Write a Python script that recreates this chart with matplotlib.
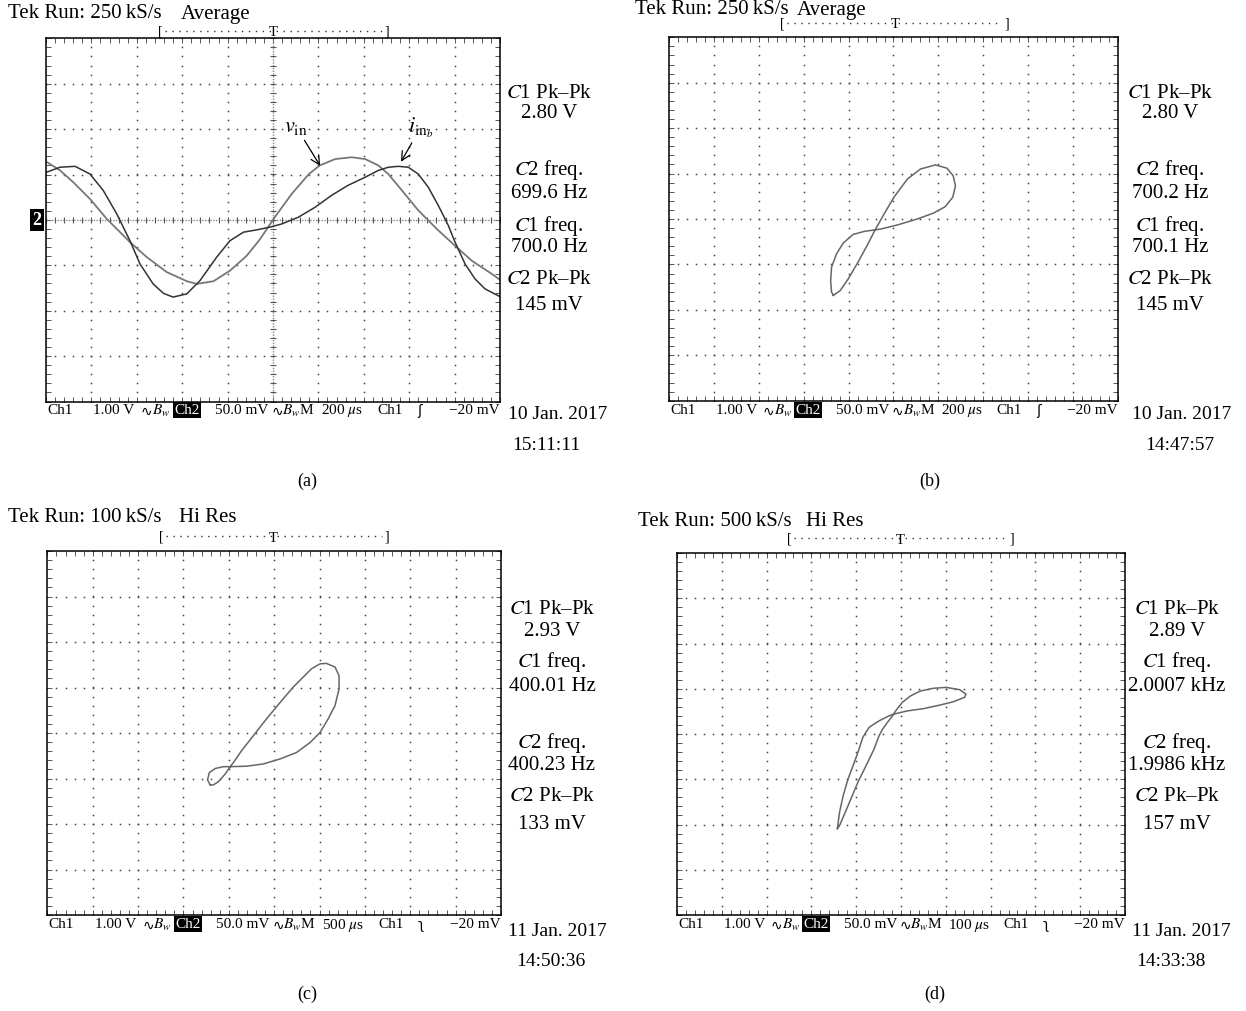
import matplotlib
matplotlib.use('Agg')
import matplotlib.pyplot as plt
import numpy as np
from matplotlib.lines import Line2D
from matplotlib.ticker import MultipleLocator

plt.rcParams['font.family'] = ['Liberation Serif', 'DejaVu Serif', 'DejaVu Sans']
plt.rcParams['mathtext.fontset'] = 'stix'

W, H = 1246, 1012

# all traces in screen divisions: x 0..10, y -4..4
# (a) YT mode, two channels
a_vin_x = [0.01, 0.31, 0.60, 0.97, 1.34, 1.85, 2.22, 2.66, 3.10, 3.32, 3.69, 4.05, 4.42,
           4.71, 5.04, 5.41, 5.79, 6.03, 6.37, 6.73, 7.03, 7.32, 7.54, 7.84, 8.20, 8.64,
           9.01, 9.38, 9.82, 10.0]
a_vin_y = [1.28, 1.09, 0.83, 0.46, 0.02, -0.49, -0.82, -1.15, -1.35, -1.41, -1.35, -1.12,
           -0.79, -0.43, 0.06, 0.57, 1.01, 1.20, 1.34, 1.38, 1.34, 1.20, 1.01, 0.65, 0.21,
           -0.23, -0.57, -0.90, -1.19, -1.32]
a_iin_x = [0.01, 0.31, 0.64, 0.97, 1.26, 1.56, 1.85, 2.07, 2.36, 2.59, 2.80, 3.10, 3.39,
           3.76, 4.05, 4.35, 4.64, 4.93, 5.19, 5.56, 5.93, 6.29, 6.65, 7.03, 7.32, 7.54,
           7.76, 7.98, 8.20, 8.42, 8.64, 8.86, 9.01, 9.23, 9.45, 9.67, 10.0]
a_iin_y = [1.05, 1.16, 1.18, 1.01, 0.65, 0.13, -0.46, -0.97, -1.41, -1.62, -1.70, -1.63,
           -1.34, -0.82, -0.46, -0.27, -0.22, -0.16, -0.09, 0.06, 0.28, 0.54, 0.76, 0.94,
           1.09, 1.16, 1.18, 1.16, 1.01, 0.72, 0.32, -0.12, -0.49, -0.97, -1.30, -1.52, -1.69]

# (b)-(d) XY mode loops
b_x = [3.66, 3.81, 3.99, 4.21, 4.43, 4.59, 4.79, 5.01, 5.31, 5.60, 5.93, 6.19, 6.33, 6.38,
       6.32, 6.15, 5.89, 5.53, 5.09, 4.72, 4.59, 4.36, 4.10, 3.88, 3.73, 3.62, 3.60, 3.62, 3.66]
b_y = [-1.68, -1.58, -1.32, -0.95, -0.55, -0.24, 0.11, 0.48, 0.88, 1.10, 1.19, 1.12, 0.95,
       0.73, 0.48, 0.27, 0.13, 0.00, -0.13, -0.22, -0.24, -0.27, -0.34, -0.53, -0.77, -1.06,
       -1.36, -1.61, -1.68]

c_x = [3.59, 3.53, 3.57, 3.70, 3.88, 4.03, 4.39, 4.76, 5.13, 5.49, 5.79, 6.01, 6.19, 6.34,
       6.43, 6.43, 6.34, 6.15, 6.01, 5.82, 5.64, 5.42, 5.13, 4.83, 4.54, 4.28, 4.10, 4.03,
       3.92, 3.77, 3.66, 3.59]
c_y = [-1.14, -1.03, -0.87, -0.78, -0.74, -0.74, -0.73, -0.68, -0.57, -0.43, -0.21, 0.01,
       0.31, 0.60, 0.97, 1.26, 1.45, 1.53, 1.52, 1.41, 1.23, 1.01, 0.67, 0.31, -0.06, -0.39,
       -0.65, -0.74, -0.90, -1.07, -1.14, -1.14]

d_x = [3.58, 3.63, 3.71, 3.82, 3.96, 4.04, 4.15, 4.29, 4.51, 4.73, 4.84, 5.14, 5.50, 5.87,
       6.16, 6.42, 6.45, 6.31, 6.01, 5.72, 5.43, 5.21, 5.03, 4.88, 4.81, 4.70, 4.59, 4.51,
       4.40, 4.22, 4.04, 3.82, 3.63, 3.58]
d_y = [-2.09, -1.72, -1.36, -0.99, -0.62, -0.40, -0.07, 0.15, 0.29, 0.40, 0.44, 0.51, 0.56,
       0.64, 0.71, 0.81, 0.88, 0.98, 1.03, 1.01, 0.95, 0.84, 0.70, 0.51, 0.40, 0.26, 0.11,
       -0.04, -0.33, -0.70, -1.06, -1.58, -2.02, -2.09]

# readouts
a_meas = ['$C$1 Pk–Pk', '2.80 V', '$C$2 freq.', '699.6 Hz', '$C$1 freq.', '700.0 Hz', '$C$2 Pk–Pk', '145 mV']
b_meas = ['$C$1 Pk–Pk', '2.80 V', '$C$2 freq.', '700.2 Hz', '$C$1 freq.', '700.1 Hz', '$C$2 Pk–Pk', '145 mV']
c_meas = ['$C$1 Pk–Pk', '2.93 V', '$C$1 freq.', '400.01 Hz', '$C$2 freq.', '400.23 Hz', '$C$2 Pk–Pk', '133 mV']
d_meas = ['$C$1 Pk–Pk', '2.89 V', '$C$1 freq.', '2.0007 kHz', '$C$2 freq.', '1.9986 kHz', '$C$2 Pk–Pk', '157 mV']
titles = [('Tek Run: 250\u2009kS/s', 'Average'), ('Tek Run: 250\u2009kS/s', 'Average'),
          ('Tek Run: 100\u2009kS/s', 'Hi Res'), ('Tek Run: 500\u2009kS/s', 'Hi Res')]
timebases = ['200 $\\mu$s', '200 $\\mu$s', '500 $\\mu$s', '100 $\\mu$s']
slopes = ['ʃ', 'ʃ', 'ʅ', 'ʅ']
dates = ['10 Jan. 2017', '10 Jan. 2017', '11 Jan. 2017', '11 Jan. 2017']
clocks = ['15:11:11', '14:47:57', '14:50:36', '14:33:38']
letters = ['(a)', '(b)', '(c)', '(d)']

fig = plt.figure(figsize=(W / 100, H / 100), dpi=100)


def put(px, py, s, size=14, ha='center', va='center', **kw):
    return fig.text(px / W, 1 - py / H, s, fontsize=size, ha=ha, va=va, **kw)


def scope(l, t, r, b, crosshair=False):
    ax = fig.add_axes([l / W, 1 - b / H, (r - l) / W, (b - t) / H])
    ax.set_xlim(0, 10)
    ax.set_ylim(-4, 4)
    for axis in (ax.xaxis, ax.yaxis):
        axis.set_major_locator(MultipleLocator(1))
        axis.set_minor_locator(MultipleLocator(0.2))
    ax.tick_params(which='both', direction='in', length=3.5, width=0.7, color='#555',
                   top=True, right=True, labelbottom=False, labelleft=False)
    for sp in ax.spines.values():
        sp.set_linewidth(1.1)
    xs = np.arange(0, 10.001, 0.2)
    ys = np.arange(-4, 4.001, 0.2)
    for gx in range(1, 10):
        if crosshair and gx == 5:
            continue
        ax.plot(np.full_like(ys, gx), ys, ls='none', marker='s', ms=1.1, mew=0, color='#444')
    for gy in range(-3, 4):
        if crosshair and gy == 0:
            continue
        ax.plot(xs, np.full_like(xs, gy), ls='none', marker='s', ms=1.1, mew=0, color='#444')
    if crosshair:
        ax.axhline(0, color='#888', lw=1.0, ls=(0, (1, 1)))
        ax.axvline(5, color='#888', lw=1.0, ls=(0, (1, 1)))
        ax.plot(xs, np.zeros_like(xs), ls='none', marker='|', ms=5, mew=0.8, color='#555')
        ax.plot(np.full_like(ys, 5), ys, ls='none', marker='_', ms=5, mew=0.8, color='#555')
    return ax


bar_pos = [0.002, 0.104, 0.209, 0.282, 0.372, 0.496, 0.606, 0.729, 0.817]


def bottom_bar(l, r, y, timebase, slope, size=11):
    w = r - l
    items = ['Ch1', '1.00 V', '$B_w$', 'Ch2', '50.0 mV', '$B_w$M', timebase, 'Ch1', slope]
    for i, (f, s) in enumerate(zip(bar_pos, items)):
        x = l + f * w
        if i == 3:
            put(x, y, s, size, ha='left', color='white',
                bbox=dict(boxstyle='square,pad=0.08', fc='black', ec='none'))
        elif i in (2, 5):
            put(x, y + 1, '∿', size - 1, ha='left', family=['DejaVu Sans'])
            put(x + 11, y, s, size, ha='left')
        elif i == 8:
            put(x, y, s, size - 1, ha='left', family=['DejaVu Sans'])
        else:
            put(x, y, s, size, ha='left')
    put(r, y, '−20 mV', size, ha='right')


def trigger(l, r, y, tx):
    put(l, y, '[', 10)
    put(r, y, ']', 10)
    fig.add_artist(Line2D([(l + 5) / W, (r - 5) / W], [1 - y / H, 1 - y / H],
                          ls=(0, (1, 4)), lw=1.0, color='#333'))
    put(tx, y + 1, 'T', 10.5)


def readout(cx, ys, texts, size=15):
    for yy, s in zip(ys, texts):
        put(cx, yy, s, size)


boxes = [(46, 39.3, 500, 402.5), (669, 38.3, 1118, 401.7),
         (47.4, 552, 501, 916), (677, 554, 1125, 916)]

# (a)
ax = scope(*boxes[0], crosshair=True)
ax.plot(a_vin_x, a_vin_y, color='#777', lw=1.3, solid_joinstyle='round')
ax.plot(a_iin_x, a_iin_y, color='#333', lw=1.1, solid_joinstyle='round')
ax.annotate('$v_{\\mathrm{in}}$', xy=(6.04, 1.19), xytext=(5.51, 2.05), ha='center', va='center',
            fontsize=16, arrowprops=dict(arrowstyle='->', lw=0.9, color='black', shrinkA=1, shrinkB=0))
ax.annotate('$i_{\\mathrm{in}_b}$', xy=(7.82, 1.28), xytext=(8.26, 2.05), ha='center', va='center',
            fontsize=16, arrowprops=dict(arrowstyle='->', lw=0.9, color='black', shrinkA=1, shrinkB=0))
put(37, 221, '2', 13, color='white', fontweight='bold',
    bbox=dict(boxstyle='square,pad=0.12', fc='black', ec='none'))

# (b)-(d)
for box, xs_, ys_ in zip(boxes[1:], [b_x, c_x, d_x], [b_y, c_y, d_y]):
    axx = scope(*box)
    axx.plot(xs_, ys_, color='#666', lw=1.1, solid_joinstyle='round')

# texts
title_pos = [(8, 14, 181), (635, 10, 797), (8, 518, 179), (638, 521, 806)]
for (x0, y0, x1), (t1, t2) in zip(title_pos, titles):
    put(x0, y0, t1, 15, ha='left')
    put(x1, y0, t2, 15, ha='left')

trig_pos = [(160, 387, 32, 273), (782, 1007, 24, 895), (161, 387, 537, 273), (789, 1012, 539, 900)]
for l, r, y, tx in trig_pos:
    trigger(l, r, y, tx)

bar_y = [411, 411, 925, 925]
for box, y, tb, sl in zip(boxes, bar_y, timebases, slopes):
    bottom_bar(box[0], box[2], y, tb, sl)

meas_y_top = [93, 114, 170, 193, 226, 248, 279, 306]
meas_y_bot = [610, 632, 662, 687, 743, 766, 797, 825]
readout(549, meas_y_top, a_meas)
readout(1170, meas_y_top, b_meas)
readout(552, meas_y_bot, c_meas)
readout(1177, meas_y_bot, d_meas)

date_pos = [(558, 415, 546, 446), (1182, 415, 1180, 446), (557, 932, 551, 962), (1181, 932, 1171, 962)]
for (dx, dy, cx, cy), d, c in zip(date_pos, dates, clocks):
    put(dx, dy, d, 14)
    put(cx, cy, c, 14)

letter_pos = [(307, 481), (930, 481), (307, 994), (935, 994)]
for (lx, ly), s in zip(letter_pos, letters):
    put(lx, ly, s, 13)

fig.savefig('out.png', dpi=100, facecolor='white')
